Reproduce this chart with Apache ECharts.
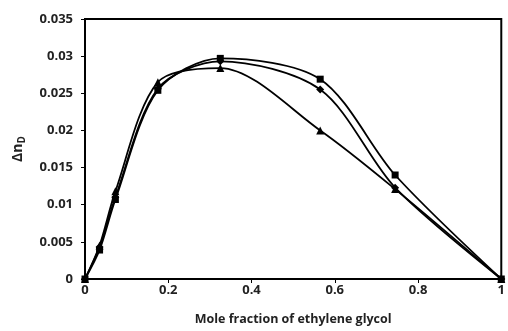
<!DOCTYPE html>
<html>
<head>
<meta charset="utf-8">
<script src="https://cdn.jsdelivr.net/npm/echarts@6/dist/echarts.min.js"></script>
<style>
  html, body { margin: 0; padding: 0; background: #fff; }
  #main { width: 508px; height: 331px; }
</style>
</head>
<body>
<div id="main"></div>
<script>
// mole fraction of ethylene glycol
var xVals = [0, 0.035, 0.073, 0.175, 0.325, 0.565, 0.745, 1];
// Δn_D for the three series
var squareVals = [0, 0.0039, 0.0107, 0.0254, 0.0297, 0.0269, 0.0140, 0];
var diamondVals = [0, 0.0043, 0.0110, 0.0256, 0.0293, 0.0255, 0.0123, 0];
var triangleVals = [0, 0.0045, 0.0118, 0.0265, 0.0284, 0.0200, 0.0121, 0];

function pairs(ys) {
    return xVals.map(function (x, i) { return [x, ys[i]]; });
}

var chart = echarts.init(document.getElementById('main'));
var font = 'Open Sans, sans-serif';

function line(symbol, ys, size) {
    return {
        type: 'line',
        smooth: 0.3,
        symbol: symbol,
        symbolSize: size,
        showSymbol: true,
        lineStyle: {color: '#000', width: 1.8},
        itemStyle: {color: '#000'},
        data: pairs(ys)
    };
}

chart.setOption({
    animation: false,
    grid: {
        left: 85, right: 2, top: 19, bottom: 50,
        show: true, borderColor: '#000', borderWidth: 2, backgroundColor: 'transparent'
    },
    xAxis: {
        type: 'value',
        min: 0, max: 1, interval: 0.2,
        name: 'Mole fraction of ethylene glycol',
        nameLocation: 'middle',
        nameGap: 34,
        nameTextStyle: {color: '#222', fontSize: 12.5, fontWeight: 'bold', fontFamily: font},
        axisLine: {show: true, lineStyle: {color: '#000', width: 2}},
        axisTick: {show: true, length: 4, lineStyle: {color: '#000', width: 1}},
        axisLabel: {color: '#222', fontSize: 13, fontWeight: 'bold', fontFamily: font, margin: 5},
        splitLine: {show: false}
    },
    yAxis: {
        type: 'value',
        min: 0, max: 0.035, interval: 0.005,
        name: '{a|Δn}{b|D}',
        nameLocation: 'middle',
        nameRotate: 90,
        nameGap: 58,
        nameTextStyle: {
            rich: {
                a: {color: '#222', fontSize: 14, fontWeight: 'bold', fontFamily: font},
                b: {color: '#222', fontSize: 10, fontWeight: 'bold', fontFamily: font, padding: [7, 0, 0, 0]}
            }
        },
        axisLine: {show: true, lineStyle: {color: '#000', width: 2}},
        axisTick: {show: true, length: 4, lineStyle: {color: '#000', width: 1}},
        axisLabel: {color: '#222', fontSize: 13, fontWeight: 'bold', fontFamily: font, margin: 12},
        splitLine: {show: false}
    },
    series: [
        line('rect', squareVals, 7),
        line('diamond', diamondVals, 8),
        line('triangle', triangleVals, 8)
    ]
});
</script>
</body>
</html>
